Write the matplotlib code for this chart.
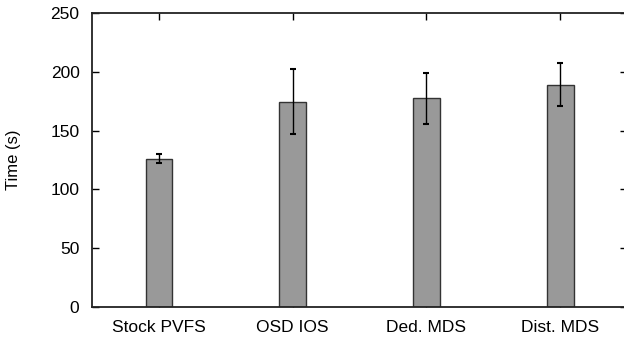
import matplotlib
matplotlib.use("Agg")
import matplotlib.pyplot as plt

plt.rcParams['font.family'] = ['Liberation Sans', 'DejaVu Sans']

# 数据
systems = ['Stock PVFS', 'OSD IOS', 'Ded. MDS', 'Dist. MDS']
times = [126, 174.5, 177.5, 189]
errors = [3.8, 27.5, 21.7, 18.3]

fig = plt.figure(figsize=(6.24, 3.39), dpi=100)
ax = fig.add_axes([92 / 624, 32 / 339, 535 / 624, 294 / 339])

x = list(range(len(systems)))
ax.bar(x, times, width=0.2, color='#999999', edgecolor='#333333', linewidth=1.0, zorder=2)
ax.errorbar(x, times, yerr=errors, fmt='none', ecolor='black', elinewidth=1.0,
            capsize=2.3, capthick=1.5, zorder=3)

ax.set_xlim(-0.5, 3.5)
ax.set_ylim(0, 250)
ax.set_xticks(x)
ax.set_xticklabels(systems, fontsize=12.5)
ax.set_yticks(range(0, 251, 50))
ax.tick_params(axis='y', labelsize=12.5, pad=9)
ax.tick_params(axis='x', pad=9)
ax.tick_params(direction='in', length=5, width=1, top=True, right=True)
ax.set_ylabel('Time (s)', fontsize=12)
ax.yaxis.set_label_coords(-71 / 535, 0.5)

for s in ax.spines.values():
    s.set_linewidth(1.3)
    s.set_color('#222222')

fig.savefig('out.png', dpi=100)
